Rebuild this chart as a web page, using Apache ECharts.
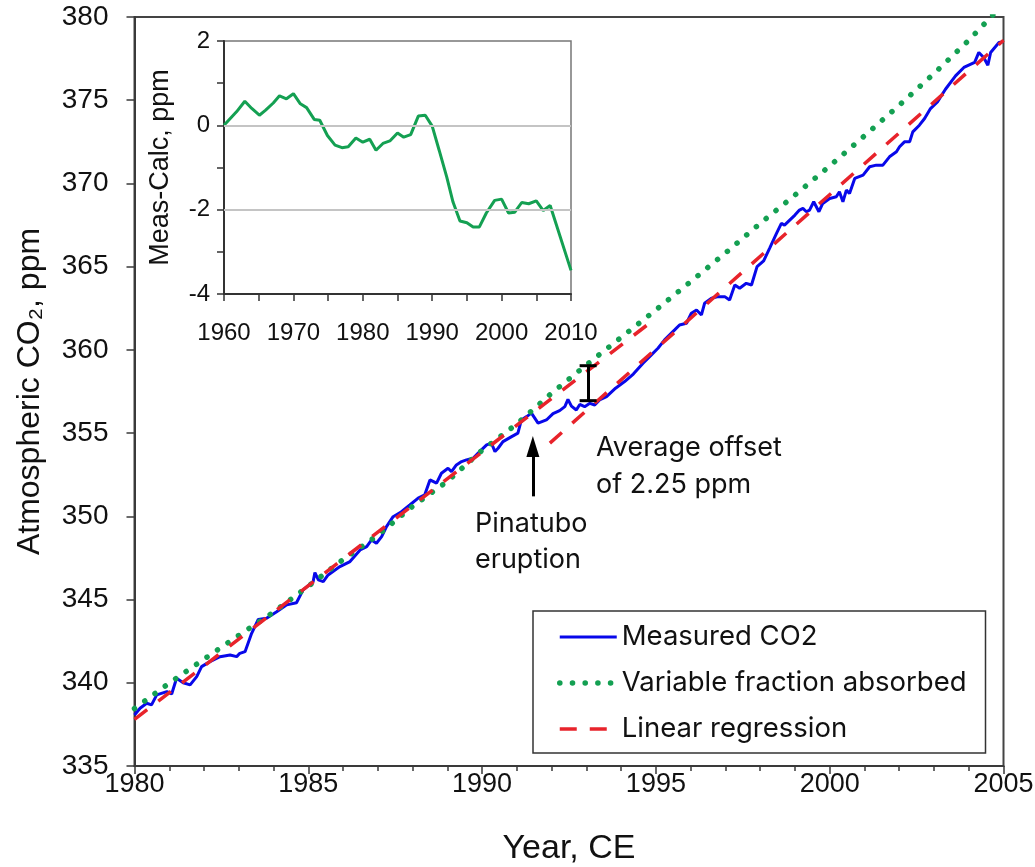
<!DOCTYPE html>
<html><head><meta charset="utf-8">
<script src="https://cdn.jsdelivr.net/npm/echarts@6/dist/echarts.min.js"></script>
<style>html,body{margin:0;padding:0;background:#fff}#c{width:1035px;height:867px}</style>
</head><body><div id="c"></div>
<script>
// ---- Main chart data ----
const measuredYears = [1980.00,1980.16,1980.35,1980.49,1980.64,1980.93,1981.07,1981.21,1981.40,1981.60,1981.79,1981.93,1982.17,1982.46,1982.75,1982.94,1983.03,1983.18,1983.23,1983.37,1983.56,1983.80,1984.09,1984.38,1984.66,1984.85,1985.14,1985.19,1985.29,1985.43,1985.57,1985.77,1985.91,1986.20,1986.49,1986.68,1986.82,1986.96,1987.11,1987.25,1987.44,1987.68,1987.92,1988.16,1988.35,1988.50,1988.69,1988.83,1989.02,1989.12,1989.26,1989.41,1989.55,1989.74,1989.93,1990.13,1990.27,1990.37,1990.46,1990.60,1990.85,1991.03,1991.13,1991.28,1991.42,1991.61,1991.85,1992.04,1992.23,1992.38,1992.47,1992.57,1992.71,1992.81,1992.95,1993.10,1993.24,1993.38,1993.58,1993.84,1994.10,1994.35,1994.63,1994.87,1995.06,1995.25,1995.54,1995.68,1995.88,1996.02,1996.17,1996.31,1996.40,1996.60,1996.79,1996.98,1997.12,1997.27,1997.41,1997.60,1997.75,1997.91,1998.10,1998.27,1998.47,1998.61,1998.70,1998.85,1999.00,1999.13,1999.23,1999.33,1999.42,1999.54,1999.69,1999.80,2000.00,2000.19,2000.28,2000.38,2000.48,2000.57,2000.72,2000.96,2001.15,2001.34,2001.53,2001.72,2001.92,2002.01,2002.15,2002.30,2002.39,2002.58,2002.73,2002.90,2003.10,2003.33,2003.62,2003.86,2004.17,2004.29,2004.43,2004.55,2004.63,2004.87,2004.97];
const measuredCO2 = [338.06,338.47,338.77,338.67,339.27,339.47,339.33,340.27,340.00,339.87,340.37,340.97,341.27,341.57,341.67,341.57,341.77,341.87,341.87,342.97,343.81,343.88,344.27,344.68,344.81,345.58,346.08,346.62,346.18,346.08,346.48,346.78,346.98,347.28,347.98,348.18,348.58,348.38,348.78,349.38,349.98,350.28,350.68,351.09,351.29,352.19,351.99,352.59,352.89,352.69,353.09,353.29,353.39,353.49,353.89,354.29,354.39,353.89,354.09,354.49,354.79,355.00,355.79,355.99,356.20,355.60,355.79,356.17,356.35,356.59,357.03,356.62,356.39,356.72,356.59,356.79,356.69,356.99,357.19,357.70,358.10,358.55,359.20,359.70,360.10,360.60,361.20,361.50,361.60,362.20,362.40,362.10,362.80,363.10,363.20,363.20,363.00,363.90,363.70,364.00,363.90,365.00,365.35,366.10,367.00,367.60,367.50,367.80,368.10,368.40,368.50,368.30,368.40,368.90,368.30,368.80,369.10,369.20,369.50,368.90,369.60,369.40,370.30,370.50,371.00,371.10,371.10,371.60,371.90,372.20,372.50,372.50,373.10,373.50,373.90,374.50,374.90,375.66,376.46,376.97,377.27,377.87,377.57,377.10,377.87,378.47,378.50];
const modelYears = [1980,1981,1982,1983,1984,1985,1986,1987,1988,1989,1990,1991,1992,1993,1994,1995,1996,1997,1998,1999,2000,2001,2002,2003,2004,2005];
const variableFraction = [338.45,339.98,341.42,342.85,344.24,345.80,347.40,348.87,350.60,352.10,353.97,355.55,357.40,359.10,360.75,362.40,364.10,365.82,367.60,369.30,371.05,372.86,374.70,376.60,378.60,380.80];
const regressionEarlyYears = [1980, 1995.0];
const regressionEarlyCO2 = [337.8, 361.9];
const regressionLateYears = [1991.95, 2005];
const regressionLateCO2 = [354.4, 378.6];
// annotations (data coordinates)
const pinatuboArrow = [1991.46, 351.2, 354.2];   // year, shaft bottom, shaft top
const offsetBar = [1993.05, 356.95, 359.05];     // year, lower end, upper end
// ---- Inset data ----
const insetYears = [1960,1961.8,1963,1964,1965.1,1966,1967.1,1968,1969,1970,1971,1971.9,1973,1973.8,1974.9,1976,1977,1977.9,1979,1980,1981,1981.9,1982.9,1983.9,1985,1985.9,1986.9,1988,1989,1990,1991,1992.1,1993,1994,1995,1995.9,1996.8,1997.8,1999,2000,2001,2001.9,2002.9,2003.9,2005,2006,2007,2010];
const insetDiff = [0.0,0.32,0.57,0.40,0.24,0.36,0.53,0.70,0.63,0.75,0.51,0.42,0.14,0.12,-0.24,-0.47,-0.53,-0.51,-0.30,-0.40,-0.33,-0.59,-0.43,-0.37,-0.18,-0.28,-0.22,0.22,0.24,-0.02,-0.59,-1.23,-1.82,-2.27,-2.31,-2.41,-2.41,-2.08,-1.78,-1.75,-2.08,-2.06,-1.83,-1.86,-1.79,-2.02,-1.90,-3.44];
const insetGridValues = [0, -2];
const legendNames = ['Measured CO2', 'Variable fraction absorbed', 'Linear regression'];

const zip = (xs, ys) => xs.map((x, i) => [x, ys[i]]);
const tickFont = '"Liberation Sans", Arial, sans-serif';
const titleFont = '"Liberation Sans Narrow", "Liberation Sans", Arial, sans-serif';
const noteFont = 'Inter, "Noto Sans", sans-serif';
const axisGray = '#3a3a3a';
const blue = '#0808ea', green = '#14a052', red = '#e8232b';
const blueStyle = {color: blue, width: 3};
const greenStyle = {color: green, width: 5.5, type: [0.1, 12.6], cap: 'round'};
const redStyle = {color: red, width: 3.5, type: [16, 14]};

const chart = echarts.init(document.getElementById('c'), null, {renderer: 'canvas'});
const option = {
  animation: false,
  backgroundColor: '#fff',
  grid: [
    {left: 134.5, right: 31.5, top: 17, bottom: 101, show: true, borderColor: '#444', borderWidth: 2, containLabel: false, outerBoundsMode: 'none'},
    {left: 224, right: 464, top: 41, bottom: 573, show: true, borderColor: '#777', borderWidth: 1.5, backgroundColor: '#fff', containLabel: false, outerBoundsMode: 'none'}
  ],
  xAxis: [
    {gridIndex: 0, type: 'value', min: 1980, max: 2005, interval: 5,
     splitLine: {show: false},
     axisLine: {onZero: false, lineStyle: {color: axisGray, width: 2}},
     axisTick: {length: 8, lineStyle: {color: axisGray, width: 1.5}},
     minorTick: {show: true, splitNumber: 5, length: 5, lineStyle: {color: axisGray, width: 1.5}},
     axisLabel: {fontSize: 27, color: '#111', fontFamily: tickFont, margin: 5, formatter: v => String(v)},
     name: 'Year, CE', nameLocation: 'middle', nameGap: 66,
     nameTextStyle: {fontSize: 34, color: '#111', fontFamily: titleFont}},
    {gridIndex: 1, type: 'value', min: 1960, max: 2010, interval: 5,
     splitLine: {show: false},
     axisLine: {onZero: false, lineStyle: {color: '#333', width: 2}},
     axisTick: {length: 7, lineStyle: {color: '#333', width: 1.5}},
     axisLabel: {fontSize: 24, color: '#111', fontFamily: tickFont, margin: 27,
                 formatter: v => (v % 10 === 0 ? String(v) : '')}}
  ],
  yAxis: [
    {gridIndex: 0, type: 'value', min: 335, max: 380, interval: 5,
     splitLine: {show: false},
     axisLine: {onZero: false, lineStyle: {color: axisGray, width: 2}},
     axisTick: {length: 8, lineStyle: {color: axisGray, width: 1.5}},
     axisLabel: {fontSize: 28, color: '#111', fontFamily: tickFont, margin: 26},
     name: 'Atmospheric CO₂, ppm', nameLocation: 'middle', nameRotate: 90, nameGap: 88,
     nameTextStyle: {fontSize: 32, color: '#111', fontFamily: titleFont}},
    {gridIndex: 1, type: 'value', min: -4, max: 2, interval: 1,
     splitLine: {show: false},
     axisLine: {onZero: false, lineStyle: {color: '#333', width: 2}},
     axisTick: {length: 7, lineStyle: {color: '#333', width: 1.5}},
     axisLabel: {fontSize: 24, color: '#111', fontFamily: tickFont, margin: 14,
                 formatter: v => (v % 2 === 0 ? String(v) : '')},
     name: 'Meas-Calc, ppm', nameLocation: 'middle', nameRotate: 90, nameGap: 50,
     nameTextStyle: {fontSize: 27, color: '#111', fontFamily: titleFont}}
  ],
  legend: {
    orient: 'vertical', left: 533, top: 611, padding: [11, 19, 9, 24], itemGap: 16,
    itemWidth: 57, itemHeight: 14, backgroundColor: '#fff', borderColor: '#333', borderWidth: 1.5,
    selectedMode: false, itemStyle: {opacity: 0},
    data: [
      {name: legendNames[0], lineStyle: blueStyle},
      {name: legendNames[1], lineStyle: greenStyle},
      {name: legendNames[2], lineStyle: {color: red, width: 3.5, type: [17, 13]}}
    ],
    textStyle: {fontSize: 27.5, fontFamily: noteFont, color: '#111', lineHeight: 30}
  },
  series: [
    {name: legendNames[0], type: 'line', xAxisIndex: 0, yAxisIndex: 0, symbol: 'none', z: 3,
     data: zip(measuredYears, measuredCO2), lineStyle: blueStyle, itemStyle: {color: blue}},
    {name: legendNames[1], type: 'line', xAxisIndex: 0, yAxisIndex: 0, symbol: 'none', z: 4,
     data: zip(modelYears, variableFraction), lineStyle: greenStyle, itemStyle: {color: green}},
    {name: legendNames[2], type: 'line', xAxisIndex: 0, yAxisIndex: 0, symbol: 'none', z: 4,
     data: zip(regressionEarlyYears, regressionEarlyCO2), lineStyle: redStyle, itemStyle: {color: red}},
    {name: legendNames[2], type: 'line', xAxisIndex: 0, yAxisIndex: 0, symbol: 'none', z: 4,
     data: zip(regressionLateYears, regressionLateCO2), lineStyle: redStyle, itemStyle: {color: red}},
    {name: 'annotations', type: 'line', xAxisIndex: 0, yAxisIndex: 0, data: [], z: 5,
     markLine: {silent: true, animation: false, label: {show: false},
       lineStyle: {color: '#000', width: 3, type: 'solid'},
       data: [
         [{coord: [pinatuboArrow[0], pinatuboArrow[1]], symbol: 'none'},
          {coord: [pinatuboArrow[0], pinatuboArrow[2]], symbol: 'triangle', symbolSize: [13, 21]}],
         [{coord: [offsetBar[0], offsetBar[1]], symbol: 'rect', symbolSize: [17, 3]},
          {coord: [offsetBar[0], offsetBar[2]], symbol: 'rect', symbolSize: [17, 3]}]
       ]}},
    {name: 'inset grid', type: 'line', xAxisIndex: 1, yAxisIndex: 1, data: [], z: 2,
     markLine: {silent: true, animation: false, symbol: 'none', label: {show: false},
       lineStyle: {color: '#c4c4c4', width: 2, type: 'solid'},
       data: insetGridValues.map(v => ({yAxis: v}))}},
    {name: 'Meas-Calc', type: 'line', xAxisIndex: 1, yAxisIndex: 1, symbol: 'none', z: 3,
     data: zip(insetYears, insetDiff), lineStyle: {color: green, width: 3}}
  ],
  graphic: [
    {type: 'text', x: 475, y: 506, z: 10,
     style: {text: 'Pinatubo\neruption', font: '27px ' + noteFont, fill: '#111', lineHeight: 36, verticalAlign: 'top'}},
    {type: 'text', x: 596, y: 429, z: 10,
     style: {text: 'Average offset\nof 2.25 ppm', font: '27px ' + noteFont, fill: '#111', lineHeight: 37, verticalAlign: 'top'}}
  ]
};
chart.setOption(option);
</script></body></html>
